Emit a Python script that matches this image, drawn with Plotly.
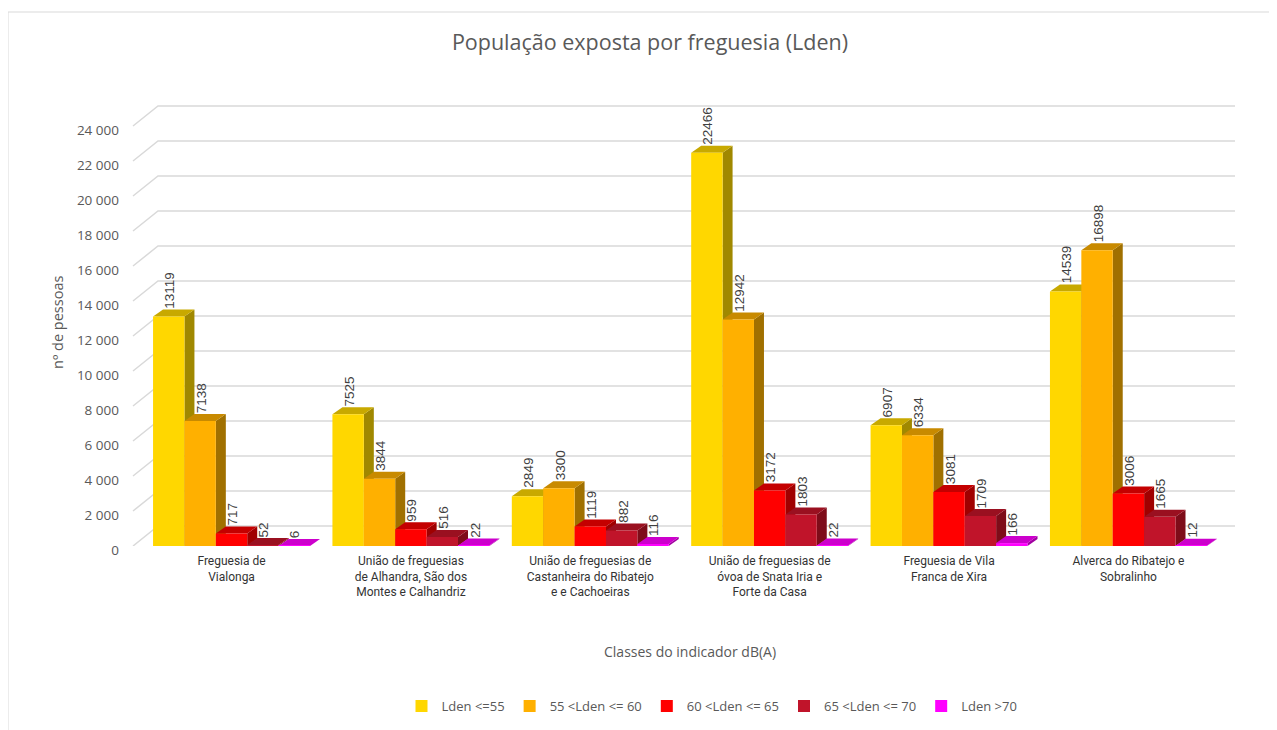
import plotly.graph_objects as go

# ---------------- data ----------------
categories = [
    "Freguesia de<br>Vialonga",
    "União de freguesias<br>de Alhandra, São dos<br>Montes e Calhandriz",
    "União de freguesias de<br>Castanheira do Ribatejo<br>e e Cachoeiras",
    "União de freguesias de<br>óvoa de Snata Iria e<br>Forte da Casa",
    "Freguesia de Vila<br>Franca de Xira",
    "Alverca do Ribatejo e<br>Sobralinho",
]
series_names = ["Lden <=55", "55 <Lden <= 60", "60 <Lden <= 65", "65 <Lden <= 70", "Lden >70"]
lden_le55 = [13119, 7525, 2849, 22466, 6907, 14539]
lden_55_60 = [7138, 3844, 3300, 12942, 6334, 16898]
lden_60_65 = [717, 959, 1119, 3172, 3081, 3006]
lden_65_70 = [52, 516, 882, 1803, 1709, 1665]
lden_gt70 = [6, 22, 116, 22, 166, 12]
y_ticks = list(range(0, 24001, 2000))

series_values = [lden_le55, lden_55_60, lden_60_65, lden_65_70, lden_gt70]

# ---------------- styles ----------------
front_colors = ["#FFD700", "#FFB000", "#FF0000", "#C0142A", "#FF00FF"]
top_colors = ["#C8A900", "#C88A00", "#C40000", "#9A1020", "#CC00CC"]
side_colors = ["#A08800", "#A07000", "#A00000", "#7E0C19", "#A000A0"]

PAGE_OFF = 8                     # default body margin of the html page
WIN_W, WIN_H = 1277, 730
W, H = WIN_W - PAGE_OFF, WIN_H - PAGE_OFF
PLOT_LEFT_WIN, PLOT_BOTTOM_WIN = 130, 546
PLOT_W = 1110
M_L = PLOT_LEFT_WIN - PAGE_OFF
M_R = W - M_L - PLOT_W
M_B = H - (PLOT_BOTTOM_WIN - PAGE_OFF)
M_T = 98 - PAGE_OFF
PLOT_H = H - M_T - M_B
X_RANGE = [-0.566, 5.622]
Y_RANGE = [0, 25600]
UX = (X_RANGE[1] - X_RANGE[0]) / PLOT_W   # data units per px (x)
UY = (Y_RANGE[1] - Y_RANGE[0]) / PLOT_H   # data units per px (y)

BARGAP = 0.125
N = len(series_values)
BW = (1 - BARGAP) / N
DEPTH_X = 10 * UX
DEPTH_Y = 7 * UY

GRID_COLOR = "#D9D9D9"
GRID_START_PX = 3
GRID_SLANT_X_PX = 25
GRID_SLANT_Y_PX = 20
GRID_END_PX = 1235 - PLOT_LEFT_WIN

TEXT_GRAY = "#595959"


def px_to_paper_x(px_win):
    return (px_win - PLOT_LEFT_WIN) / PLOT_W


def px_to_paper_y(py_win):
    return (PLOT_BOTTOM_WIN - py_win) / PLOT_H


x_pos = list(range(len(categories)))

fig = go.Figure()
for j, (name, vals) in enumerate(zip(series_names, series_values)):
    fig.add_trace(go.Bar(
        x=x_pos, y=vals, name=name,
        marker=dict(color=front_colors[j], line=dict(width=0)),
        hoverinfo="x+y+name",
    ))

shapes = []
# back-wall gridlines with slanted lead-ins
for t in y_ticks:
    gx0 = px_to_paper_x(PLOT_LEFT_WIN + GRID_START_PX)
    gx1 = px_to_paper_x(PLOT_LEFT_WIN + GRID_START_PX + GRID_SLANT_X_PX)
    gx2 = px_to_paper_x(PLOT_LEFT_WIN + GRID_END_PX)
    ty = t + GRID_SLANT_Y_PX * UY
    shapes.append(dict(
        type="path", xref="paper", yref="y", layer="below",
        path=f"M{gx0},{t} L{gx1},{ty} L{gx2},{ty}",
        line=dict(color=GRID_COLOR, width=1.5),
    ))

annotations = []
# 3-D side and top faces of every bar + value labels, derived from the values
for i in x_pos:
    for j, vals in enumerate(series_values):
        v = vals[i]
        x0 = i - (1 - BARGAP) / 2 + j * BW
        x1 = x0 + BW
        shapes.append(dict(
            type="path", xref="x", yref="y", layer="below",
            path=f"M{x1},0 L{x1},{v} L{x1 + DEPTH_X},{v + DEPTH_Y} L{x1 + DEPTH_X},{DEPTH_Y} Z",
            fillcolor=side_colors[j], line=dict(width=0),
        ))
        shapes.append(dict(
            type="path", xref="x", yref="y", layer="below",
            path=f"M{x0},{v} L{x1},{v} L{x1 + DEPTH_X},{v + DEPTH_Y} L{x0 + DEPTH_X},{v + DEPTH_Y} Z",
            fillcolor=top_colors[j], line=dict(width=0),
        ))
        annotations.append(dict(
            text=str(v), xref="x", yref="y",
            x=(x0 + x1) / 2, y=v + DEPTH_Y, textangle=-90,
            xanchor="center", yanchor="bottom", showarrow=False,
            xshift=1, yshift=0, borderpad=0,
            font=dict(family="Liberation Sans, Arial", size=13.5, color="#404040"),
        ))

# outer chart border
shapes.append(dict(
    type="rect", xref="paper", yref="paper", layer="below",
    x0=px_to_paper_x(8), x1=px_to_paper_x(WIN_W + 20),
    y0=px_to_paper_y(WIN_H + 20), y1=px_to_paper_y(12),
    line=dict(color=GRID_COLOR, width=1), fillcolor="rgba(0,0,0,0)",
))

annotations += [
    dict(text="nº de pessoas", xref="paper", yref="paper",
         x=px_to_paper_x(57), y=px_to_paper_y(323), textangle=-90,
         showarrow=False, xanchor="center", yanchor="middle",
         font=dict(family="Open Sans", size=14.5, color=TEXT_GRAY)),
    dict(text="Classes do indicador dB(A)", xref="paper", yref="paper",
         x=px_to_paper_x(690), y=px_to_paper_y(651),
         showarrow=False, xanchor="center", yanchor="middle",
         font=dict(family="Open Sans", size=14, color=TEXT_GRAY)),
]

fig.update_layout(
    width=W, height=H,
    margin=dict(l=M_L, r=M_R, t=M_T, b=M_B, autoexpand=False),
    paper_bgcolor="white", plot_bgcolor="white",
    separators=", ",
    barmode="group", bargap=BARGAP, bargroupgap=0,
    title=dict(text="População exposta por freguesia (Lden)",
               x=(650 - PAGE_OFF) / W, y=1 - (42 - PAGE_OFF) / H,
               xanchor="center", yanchor="middle",
               xref="container", yref="container",
               font=dict(family="Open Sans", size=21.5, color=TEXT_GRAY)),
    xaxis=dict(range=X_RANGE, tickvals=x_pos, ticktext=categories,
               showgrid=False, zeroline=False, showline=False, ticks="",
               ticklabelstandoff=6, automargin=False,
               tickfont=dict(family="Roboto", size=12, color="#333333")),
    yaxis=dict(range=Y_RANGE, tickvals=y_ticks, tickformat=",d",
               showgrid=False, zeroline=False, showline=False, ticks="",
               ticklabelstandoff=10, ticklabelshift=4, automargin=False,
               tickfont=dict(family="Open Sans", size=13.5, color=TEXT_GRAY)),
    legend=dict(orientation="h", xref="container", yref="container",
                x=(712 - PAGE_OFF) / W, y=1 - (706 - PAGE_OFF) / H,
                xanchor="center", yanchor="middle", itemwidth=30,
                font=dict(family="Open Sans", size=13, color=TEXT_GRAY),
                traceorder="normal"),
    shapes=shapes,
    annotations=annotations,
)

fig.write_html("out.html")
